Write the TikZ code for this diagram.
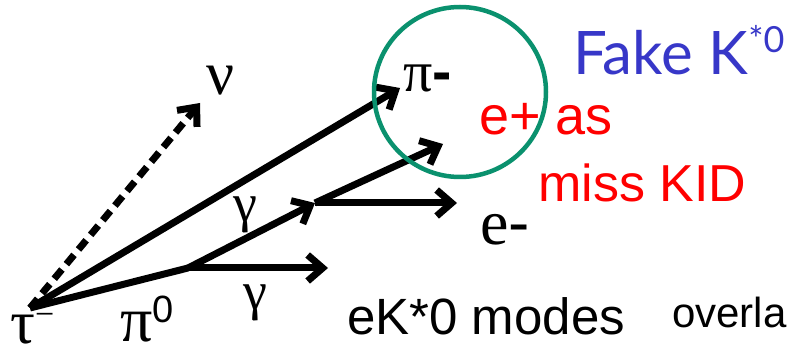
\documentclass[tikz,border=0pt]{standalone}
\usepackage{fontspec}
\setmainfont{Liberation Serif}
\setsansfont{Liberation Sans}
\newfontfamily\fakefont{Lato}
\usetikzlibrary{arrows.meta}
\definecolor{ringgreen}{RGB}{10,145,110}
\definecolor{fakeblue}{RGB}{55,55,200}

\begin{document}
\begin{tikzpicture}[x=1pt, y=-1pt,
    track/.style={line width=7pt, -{Straight Barb[length=15pt, width=26pt]}},
    lbl/.style={inner sep=0pt, anchor=base west},
    greek/.style={lbl, font=\fontsize{58}{58}\selectfont},
    slide/.style={lbl, font=\sffamily\fontsize{54}{54}\selectfont}]
    \useasboundingbox (0,0) rectangle (788,358);
    \clip (0,0) rectangle (788,358);
    % vertices and track ends
    \coordinate (vtx) at (30,308);
    \coordinate (pivtx) at (188,268);
    \coordinate (convvtx) at (315,203);
    \coordinate (nuend) at (200,103);
    \coordinate (piend) at (400,88);
    \coordinate (gend) at (328,268);
    \coordinate (epend) at (443,144);
    \coordinate (emend) at (457,203);
    % tracks
    \draw[track, dash pattern=on 12pt off 7pt] (vtx) -- (nuend);
    \draw[track] (vtx) -- (piend);
    \draw[line width=7pt] (vtx) -- (pivtx);
    \draw[track] (pivtx) -- (convvtx);
    \draw[track] (pivtx) -- (gend);
    \draw[track] (convvtx) -- (epend);
    \draw[track] (convvtx) -- (emend);
    % ring round the fake K*0
    \draw[ringgreen, line width=4.5pt] (460,92) ellipse[x radius=86, y radius=85];
    % particle labels
    \node[greek, font=\fontsize{62}{62}\selectfont] (nu) at (206,95) {ν};
    \node[greek] (piminus) at (403,92) {π{\sffamily\bfseries -}};
    \node[greek, font=\fontsize{64}{64}\selectfont] (eminus) at (480,245) {e{\sffamily -}};
    \node[greek, font=\fontsize{54}{54}\selectfont] (gamup) at (233,222) {γ};
    \node[greek, font=\fontsize{54}{54}\selectfont] (gamdn) at (243,310) {γ};
    \node[greek, font=\fontsize{62}{62}\selectfont] (taulbl) at (10,344)
      {τ\raisebox{18pt}{\fontsize{34}{34}\selectfont −}};
    \node[greek, font=\fontsize{64}{64}\selectfont] (pizero) at (120,342)
      {π\raisebox{20pt}{\sffamily\fontsize{38}{38}\selectfont 0}};
    % slide texts
    \node[lbl, fakeblue, font=\fakefont\fontsize{60}{60}\selectfont] (fake) at (573,75)
      {Fake K\raisebox{22pt}{\fontsize{36}{36}\selectfont *0}};
    \node[slide, red] (epas) at (479,135) {e+ as};
    \node[slide, red, font=\sffamily\fontsize{52}{52}\selectfont] (miss) at (538,202) {miss KID};
    \node[slide, font=\sffamily\fontsize{51}{51}\selectfont] (modes) at (347,335) {eK*0 modes};
    \node[slide, font=\sffamily\fontsize{42}{42}\selectfont] (overl) at (672,328) {overla};
\end{tikzpicture}
\end{document}
